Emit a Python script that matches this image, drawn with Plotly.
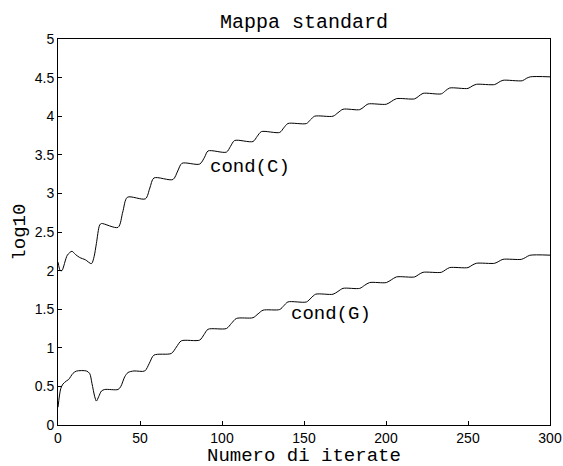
import plotly.graph_objects as go

# ---- data ----
cond_c_x = [0, 1.4, 2.4, 5.7, 8.5, 10.6, 13.2, 16.7, 20.4, 22, 23.4, 25.4, 26.5,
            36.6, 39.5, 42.3, 53.3, 56, 58.5, 70.1, 73, 75.6, 86.4, 89.4, 91.5,
            102.7, 105.2, 107.7, 118.9, 121.5, 124, 135.2, 137.7, 140.2, 151.5,
            154, 156.5, 167.7, 170.7, 173.8, 184, 186.5, 189, 200.2, 203.2, 206.3,
            217.5, 220, 222.6, 233.8, 236.3, 238.8, 250, 252.5, 255.1, 266.3,
            268.8, 271.3, 283.2, 285.6, 288, 300]
cond_c_y = [2.11, 2.0, 2.0, 2.2, 2.25, 2.21, 2.17, 2.14, 2.09, 2.18, 2.35, 2.59, 2.61,
            2.56, 2.76, 2.95, 2.93, 3.07, 3.20, 3.18, 3.29, 3.39, 3.38, 3.47, 3.55,
            3.535, 3.61, 3.685, 3.672, 3.74, 3.80, 3.79, 3.85, 3.905, 3.905,
            3.955, 4.0, 4.0, 4.045, 4.09, 4.085, 4.12, 4.158, 4.155, 4.19, 4.227,
            4.225, 4.26, 4.296, 4.29, 4.33, 4.365, 4.36, 4.39, 4.413, 4.41,
            4.44, 4.465, 4.46, 4.49, 4.51, 4.51]

cond_g_x = [0, 1.65, 3, 5.1, 6.5, 9.1, 11.2, 17.3, 19.3, 20.7, 22.4, 23.4, 24.8,
            26.5, 28.5, 36.6, 38.2, 40.7, 42.7, 46.3, 52.9, 55.7, 58.5, 69.1, 72.2,
            75.2, 86.4, 89, 91.5, 102.7, 105.7, 108.8, 118.9, 122, 125, 135.2,
            137.7, 140.2, 151.5, 154.3, 157.1, 167.7, 170.7, 173.8, 184, 187, 190,
            200.2, 203.2, 206.3, 217.5, 220, 222.6, 233.8, 236.3, 238.8, 250,
            252.5, 255.1, 266.3, 268.8, 271.3, 282.6, 285.1, 287.6, 300]
cond_g_y = [0.23, 0.47, 0.53, 0.57, 0.59, 0.668, 0.698, 0.70, 0.668, 0.54, 0.366, 0.31, 0.366,
            0.44, 0.46, 0.46, 0.495, 0.625, 0.68, 0.70, 0.70, 0.80, 0.905, 0.927, 1.01,
            1.09, 1.10, 1.17, 1.24, 1.25, 1.315, 1.38, 1.39, 1.44, 1.487, 1.496,
            1.545, 1.594, 1.594, 1.645, 1.694, 1.694, 1.73, 1.77, 1.77, 1.81, 1.845,
            1.845, 1.88, 1.918, 1.918, 1.95, 1.978, 1.978, 2.01, 2.039, 2.039,
            2.07, 2.095, 2.095, 2.12, 2.146, 2.146, 2.17, 2.198, 2.2]

x_ticks = [0, 50, 100, 150, 200, 250, 300]
y_ticks = [0, 0.5, 1, 1.5, 2, 2.5, 3, 3.5, 4, 4.5, 5]
y_tick_text = ["0", "0.5", "1", "1.5", "2", "2.5", "3", "3.5", "4", "4.5", "5"]

title_text = "Mappa standard"
x_title = "Numero di iterate"
y_title = "log10"
label_c = "cond(C)"
label_g = "cond(G)"
label_c_pos = (91.5, 3.34)
label_g_pos = (141.0, 1.435)

W, H = 563, 466
L, R, T, B = 58.3, 13, 38.5, 41
mono = "Liberation Mono, Courier New, monospace"
sans = "Liberation Sans, Arial, Helvetica, sans-serif"

fig = go.Figure()
for xs, ys in [(cond_c_x, cond_c_y), (cond_g_x, cond_g_y)]:
    fig.add_trace(go.Scatter(x=xs, y=ys, mode="lines",
                             line=dict(color="black", width=1, shape="spline", smoothing=0.8),
                             hoverinfo="skip", showlegend=False))

pw = W - L - R
ph = H - T - B
fig.add_annotation(x=label_c_pos[0], y=label_c_pos[1], xref="x", yref="y", text=label_c,
                   showarrow=False, xanchor="left", yanchor="middle",
                   font=dict(family=mono, size=19, color="black"))
fig.add_annotation(x=label_g_pos[0], y=label_g_pos[1], xref="x", yref="y", text=label_g,
                   showarrow=False, xanchor="left", yanchor="middle",
                   font=dict(family=mono, size=19, color="black"))
# title
fig.add_annotation(x=0.5, y=1 + (T - 21.5) / ph, xref="paper", yref="paper", text=title_text,
                   showarrow=False, xanchor="center", yanchor="middle",
                   font=dict(family=mono, size=20, color="black"))
# axis titles
fig.add_annotation(x=0.5, y=-(456 - (H - B)) / ph, xref="paper", yref="paper", text=x_title,
                   showarrow=False, xanchor="center", yanchor="middle",
                   font=dict(family=mono, size=19, color="black"))
fig.add_annotation(x=-(L - 20) / pw, y=0.5, xref="paper", yref="paper", text=y_title,
                   showarrow=False, xanchor="center", yanchor="middle", textangle=-90,
                   font=dict(family=mono, size=19, color="black"))

axis_common = dict(showgrid=False, zeroline=False, showline=True, linecolor="black",
                   linewidth=1, mirror=True, ticks="inside", ticklen=4, tickwidth=1,
                   automargin=False,
                   tickcolor="black", tickfont=dict(family=sans, size=14, color="black"))
fig.update_xaxes(range=[0, 300], tickvals=x_ticks, ticktext=[str(v) for v in x_ticks],
                 **axis_common)
fig.update_yaxes(range=[0, 5], tickvals=y_ticks, ticktext=y_tick_text, **axis_common)

fig.update_layout(width=W, height=H, margin=dict(l=L, r=R, t=T, b=B, pad=0, autoexpand=False),
                  paper_bgcolor="white", plot_bgcolor="white", showlegend=False)

fig.write_html("out.html")
